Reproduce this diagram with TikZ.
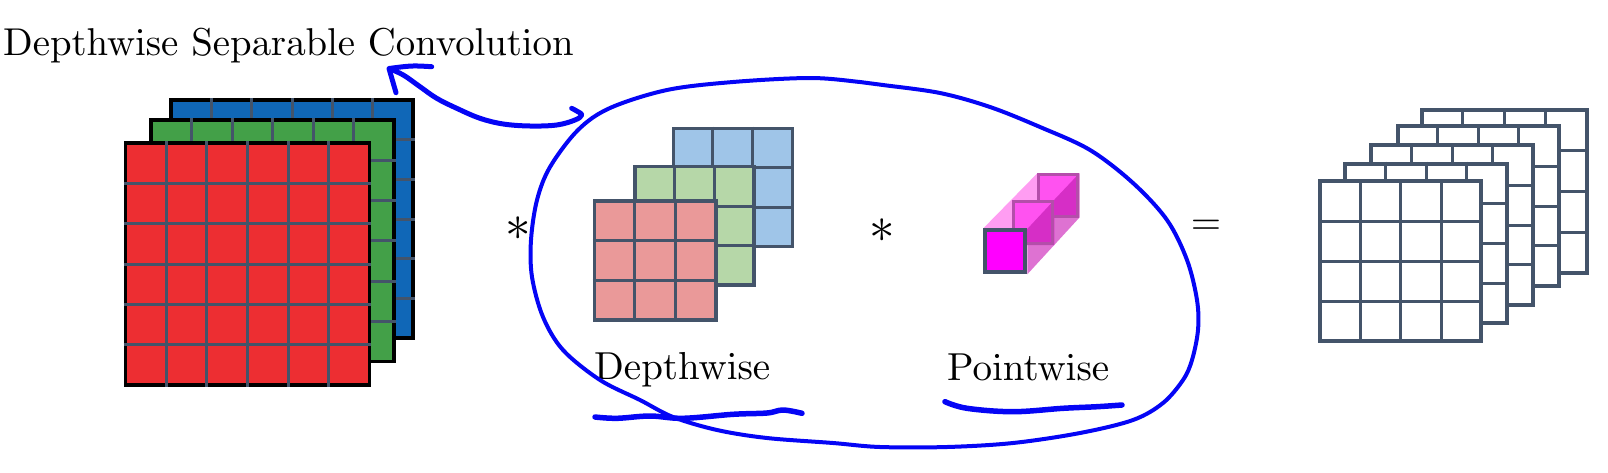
\documentclass[tikz,border=0pt]{standalone}
\font\bigrm=cmr10 at 39pt
\font\titlerm=cmr10 at 38.8pt
\font\bigsy=cmsy10 at 51pt
\definecolor{gridgray}{RGB}{68,84,106}
\definecolor{bigred}{RGB}{237,46,50}
\definecolor{biggreen}{RGB}{67,160,72}
\definecolor{bigblue}{RGB}{16,103,183}
\definecolor{dwred}{RGB}{234,153,153}
\definecolor{dwgreen}{RGB}{182,215,168}
\definecolor{dwblue}{RGB}{159,197,232}
\definecolor{handblue}{RGB}{5,5,245}
\definecolor{pwfront}{RGB}{255,0,255}
\definecolor{pwtop}{RGB}{255,157,242}
\definecolor{pwside}{RGB}{222,114,210}
\definecolor{pwsq}{RGB}{255,82,240}
\definecolor{pwsqdark}{RGB}{214,46,198}
\definecolor{pwedge}{RGB}{180,78,170}
\tikzset{
  gridline/.style={draw=gridgray, line width=3pt},
  hand/.style={draw=handblue, line width=4pt, line cap=round, line join=round},
  handthick/.style={draw=handblue, line width=5.5pt, line cap=round, line join=round},
  lbl/.style={inner sep=0pt, anchor=base west, font=\bigrm},
  opsym/.style={inner sep=0pt, anchor=base}
}
% x0 y0 x1 y1 n fill border width(number, pt)
\newcommand{\gridlayer}[8]{%
  \fill[#6] (#1,#2) rectangle (#3,#4);
  \draw[draw=#7, line width=#8pt] (#1,#2) rectangle (#3,#4);
  \pgfmathtruncatemacro{\gridnm}{#5-1}%
  \foreach \k in {1,...,\gridnm}{%
    \draw[gridline] ({#1+(#3-#1)*\k/#5},{#2-#8/2}) -- ({#1+(#3-#1)*\k/#5},{#4+#8/2});
    \draw[gridline] ({#1-#8/2},{#2+(#4-#2)*\k/#5}) -- ({#3+#8/2},{#2+(#4-#2)*\k/#5});
  }%
}
\begin{document}
\begin{tikzpicture}[x=1pt,y=-1pt]
\useasboundingbox (0,0) rectangle (1608,472);

% input feature map (6x6x3)
\gridlayer{170.7}{100}{413.3}{338.3}{6}{bigblue}{black}{3.8}
\gridlayer{151}{120}{394}{361.5}{6}{biggreen}{black}{3.8}
\gridlayer{125.5}{143.3}{369.5}{385}{6}{bigred}{black}{3.8}

% depthwise kernels (3x3x3)
\gridlayer{673.3}{128.3}{792.3}{246.7}{3}{dwblue}{gridgray}{3.3}
\gridlayer{635}{166.7}{754}{285}{3}{dwgreen}{gridgray}{3.3}
\gridlayer{594.3}{201}{716}{320}{3}{dwred}{gridgray}{3.3}

% pointwise kernel (1x1xC)
\fill[pwtop] (983.3,228.3) -- (1027.3,228.3) -- (1079.3,173.3) -- (1037.3,173.3) -- cycle;
\fill[pwside] (1027.3,228.3) -- (1079.3,173.3) -- (1079.3,217.7) -- (1027.3,274.3) -- cycle;
\fill[pwsq] (1037.3,173.3) rectangle (1079.3,217.7);
\fill[pwsqdark] (1079.3,173.3) -- (1079.3,217.7) -- (1037.3,217.7) -- cycle;
\draw[draw=pwedge, line width=3pt] (1038.8,174.8) rectangle (1077.8,216.2);
\fill[pwsq] (1012.3,200) rectangle (1054.3,245);
\fill[pwsqdark] (1054.3,200) -- (1054.3,245) -- (1012.3,245) -- cycle;
\draw[draw=pwedge, line width=3pt] (1013.8,201.5) rectangle (1052.8,243.5);
\draw[fill=pwfront, draw=gridgray, line width=4pt] (985.3,230.3) rectangle (1025.3,272.3);

% output feature maps
\gridlayer{1421.5}{110.3}{1587}{272.8}{4}{white}{gridgray}{4}
\gridlayer{1397.7}{126.3}{1558.7}{285.7}{4}{white}{gridgray}{4}
\gridlayer{1371.3}{145.3}{1533}{304.7}{4}{white}{gridgray}{4}
\gridlayer{1345.3}{163.7}{1507}{323}{4}{white}{gridgray}{4}
\gridlayer{1320.3}{181.3}{1481.3}{341.3}{4}{white}{gridgray}{4}

% texts and operators
\node[lbl, font=\titlerm] (title) at (3,55) {Depthwise Separable Convolution};
\node[lbl] (dwlabel) at (594,379) {Depthwise};
\node[lbl] (pwlabel) at (947,380) {Pointwise};
\node[opsym, font=\bigsy] (star1) at (518,240.75) {\char"03};
\node[opsym, font=\bigsy] (star2) at (882,242.75) {\char"03};
\node[opsym, font=\bigrm] (eq) at (1206,234.75) {=};

% hand-drawn annotations
\draw[hand] plot[smooth cycle, tension=0.55] coordinates {
 (610,108) (667,90) (733,82) (810,78) (860,82) (883,85) (940,93) (990,107)
 (1040,127) (1090,150) (1133,183) (1167,220) (1187,260) (1197,300) (1198,330)
 (1192,360) (1183,380) (1163,403) (1133,420) (1080,433) (1013,443) (947,447)
 (880,447) (833,443) (767,438) (717,430) (673,417) (640,400) (600,380)
 (563,350) (543,317) (532,277) (531,240) (537,200) (550,167) (578,130)};
\draw[hand, line width=5pt] plot[smooth, tension=0.6] coordinates {
 (571.7,108.3) (576.7,111) (581.7,115) (575,120) (556.7,125) (530,126)
 (503.3,124) (480,118.3) (456.7,108.3) (436.7,98.3) (420,86.7) (403.3,75) (390,69)};
\coordinate (tip) at (389,68.5);
\draw[hand, line width=5pt] (431.7,66.7) .. controls (412,65.5) .. (tip) .. controls (392,80) .. (396,92.7);
\draw[handthick] plot[smooth, tension=0.6] coordinates {
 (595,417) (617,418.3) (650,416) (683,418.3) (733,414.3) (767,413) (783,410) (802,413.3)};
\draw[handthick] plot[smooth, tension=0.6] coordinates {
 (945,401.7) (967,408.3) (1013,411.7) (1063,408.3) (1097,406.7) (1122,405)};
\end{tikzpicture}
\end{document}
